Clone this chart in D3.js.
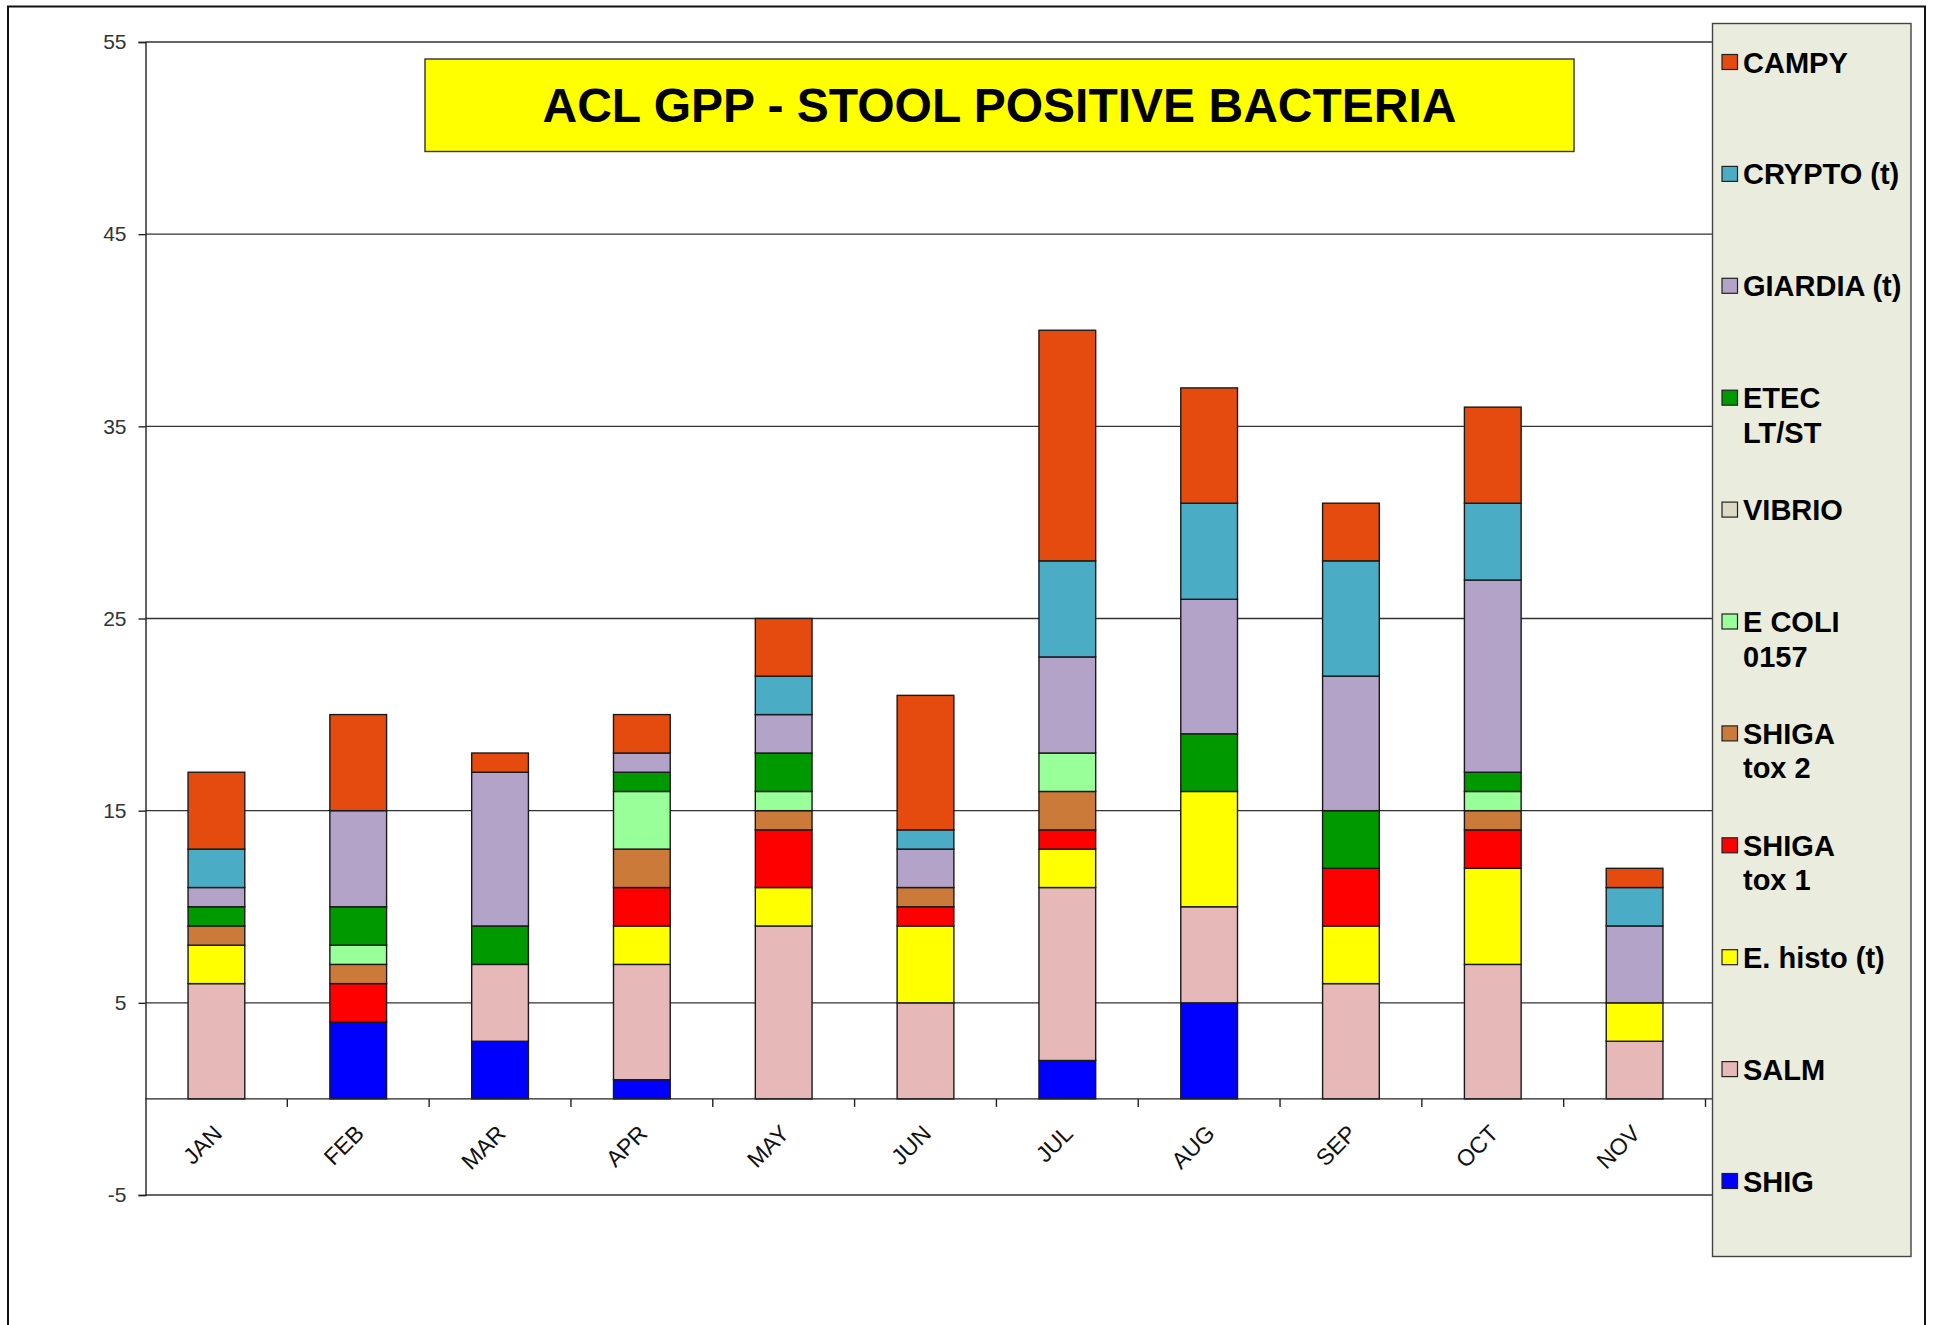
<!DOCTYPE html>
<html>
<head>
<meta charset="utf-8">
<script src="https://cdn.jsdelivr.net/npm/d3@7"></script>
<style>
  html, body { margin: 0; padding: 0; background: #ffffff; }
  svg { display: block; font-family: "Liberation Sans", Arial, sans-serif; }
</style>
</head>
<body>
<svg id="chart" width="1937" height="1325"></svg>
<script>
// ---------------- DATA ----------------
const months = ["JAN","FEB","MAR","APR","MAY","JUN","JUL","AUG","SEP","OCT","NOV"];

// series keys, stacked bottom -> top
const seriesKeys = ["SHIG","SALM","EHISTO","STX1","STX2","ECOLI","VIBRIO","ETEC","GIARDIA","CRYPTO","CAMPY"];

const SHIG    = [0, 4, 3, 1, 0, 0, 2, 5, 0, 0, 0];
const SALM    = [6, 0, 4, 6, 9, 5, 9, 5, 6, 7, 3];
const EHISTO  = [2, 0, 0, 2, 2, 4, 2, 6, 3, 5, 2];
const STX1    = [0, 2, 0, 2, 3, 1, 1, 0, 3, 2, 0];
const STX2    = [1, 1, 0, 2, 1, 1, 2, 0, 0, 1, 0];
const ECOLI   = [0, 1, 0, 3, 1, 0, 2, 0, 0, 1, 0];
const VIBRIO  = [0, 0, 0, 0, 0, 0, 0, 0, 0, 0, 0];
const ETEC    = [1, 2, 2, 1, 2, 0, 0, 3, 3, 1, 0];
const GIARDIA = [1, 5, 8, 1, 2, 2, 5, 7, 7, 10, 4];
const CRYPTO  = [2, 0, 0, 0, 2, 1, 5, 5, 6, 4, 2];
const CAMPY   = [4, 5, 1, 2, 3, 7, 12, 6, 3, 5, 1];

const seriesLabels = {
  CAMPY: ["CAMPY"],
  CRYPTO: ["CRYPTO (t)"],
  GIARDIA: ["GIARDIA (t)"],
  ETEC: ["ETEC", "LT/ST"],
  VIBRIO: ["VIBRIO"],
  ECOLI: ["E COLI", "0157"],
  STX2: ["SHIGA", "tox 2"],
  STX1: ["SHIGA", "tox 1"],
  EHISTO: ["E. histo (t)"],
  SALM: ["SALM"],
  SHIG: ["SHIG"]
};
const legendOrder = ["CAMPY","CRYPTO","GIARDIA","ETEC","VIBRIO","ECOLI","STX2","STX1","EHISTO","SALM","SHIG"];

const yTicks = [-5, 5, 15, 25, 35, 45, 55];
const titleText = "ACL GPP - STOOL POSITIVE BACTERIA";

// ---------------- STYLE ----------------
const colors = {
  SHIG: "#0000FF",
  SALM: "#E6B8B7",
  EHISTO: "#FFFF00",
  STX1: "#FF0000",
  STX2: "#CC7A3A",
  ECOLI: "#99FF99",
  VIBRIO: "#DDD9C4",
  ETEC: "#009900",
  GIARDIA: "#B3A3C8",
  CRYPTO: "#4BACC6",
  CAMPY: "#E54B0E"
};

const seriesValues = { SHIG, SALM, EHISTO, STX1, STX2, ECOLI, VIBRIO, ETEC, GIARDIA, CRYPTO, CAMPY };

const rows = months.map((m, i) => {
  const r = { month: m };
  seriesKeys.forEach(k => { r[k] = seriesValues[k][i]; });
  return r;
});

const svg = d3.select("#chart");

// outer frame
svg.append("rect")
  .attr("x", 8).attr("y", 6.5)
  .attr("width", 1917).attr("height", 1340)
  .attr("fill", "#ffffff").attr("stroke", "#111").attr("stroke-width", 2);

const plot = { left: 145.5, right: 1705.5, top: 42, bottom: 1195 };

const x = d3.scaleBand()
  .domain(months)
  .range([plot.left, plot.right])
  .paddingInner(0.6)
  .paddingOuter(0.3);

const y = d3.scaleLinear()
  .domain([-5, 55])
  .range([plot.bottom, plot.top]);

// gridlines
svg.append("g")
  .selectAll("line")
  .data(yTicks)
  .join("line")
  .attr("x1", plot.left).attr("x2", 1713)
  .attr("y1", d => y(d)).attr("y2", d => y(d))
  .attr("stroke", "#333").attr("stroke-width", 1.4);

// y axis
const yAxis = d3.axisLeft(y).tickValues(yTicks).tickSize(7).tickPadding(12).tickFormat(d => String(d));
const gy = svg.append("g").attr("transform", `translate(${plot.left},0)`).call(yAxis);
gy.select(".domain").attr("stroke", "#222").attr("stroke-width", 1.4);
gy.selectAll(".tick line").attr("stroke", "#222").attr("stroke-width", 1.4);
gy.selectAll(".tick text")
  .attr("font-size", 21)
  .attr("fill", "#333")
  .attr("font-family", "'Liberation Sans', Arial, sans-serif");

// stacked bars
const stack = d3.stack().keys(seriesKeys);
const stacked = stack(rows);

svg.append("g")
  .selectAll("g")
  .data(stacked)
  .join("g")
  .attr("fill", d => colors[d.key])
  .selectAll("rect")
  .data(d => d.filter(s => s[1] - s[0] > 0))
  .join("rect")
  .attr("x", d => x(d.data.month))
  .attr("width", x.bandwidth())
  .attr("y", d => y(d[1]))
  .attr("height", d => y(d[0]) - y(d[1]))
  .attr("stroke", "#1a1a1a")
  .attr("stroke-width", 1.4);

// x axis at zero
const step = x.step();
const gx = svg.append("g");
gx.append("line")
  .attr("x1", plot.left).attr("x2", 1713)
  .attr("y1", y(0)).attr("y2", y(0))
  .attr("stroke", "#222").attr("stroke-width", 1.4);
gx.selectAll("line.tick")
  .data(d3.range(1, months.length + 1))
  .join("line")
  .attr("class", "tick")
  .attr("x1", i => plot.left + i * step).attr("x2", i => plot.left + i * step)
  .attr("y1", y(0)).attr("y2", y(0) + 8)
  .attr("stroke", "#222").attr("stroke-width", 1.4);
gx.selectAll("text")
  .data(months)
  .join("text")
  .attr("transform", m => `translate(${x(m) + x.bandwidth() / 2 + 7},${y(0) + 36}) rotate(-45)`)
  .attr("text-anchor", "end")
  .attr("font-size", 23)
  .attr("fill", "#111")
  .text(m => m);

// title box
svg.append("rect")
  .attr("x", 425).attr("y", 59)
  .attr("width", 1149).attr("height", 92.5)
  .attr("fill", "#FFFF00").attr("stroke", "#333").attr("stroke-width", 1.4);
svg.append("text")
  .attr("x", 999.5).attr("y", 105)
  .attr("text-anchor", "middle")
  .attr("dominant-baseline", "central")
  .attr("font-size", 48)
  .attr("font-weight", "bold")
  .attr("fill", "#000")
  .text(titleText);

// legend
const lg = svg.append("g");
lg.append("rect")
  .attr("x", 1712.5).attr("y", 23.5)
  .attr("width", 1911 - 1712.5).attr("height", 1256.5 - 23.5)
  .attr("fill", "#EAEDDD").attr("stroke", "#444").attr("stroke-width", 1.4);

const legendY = d3.scaleLinear().domain([0, legendOrder.length - 1]).range([62, 1181]);
const items = lg.selectAll("g.item")
  .data(legendOrder)
  .join("g")
  .attr("class", "item")
  .attr("transform", (k, i) => `translate(0,${legendY(i)})`);
items.append("rect")
  .attr("x", 1722).attr("y", -7.5)
  .attr("width", 15.5).attr("height", 15)
  .attr("fill", k => colors[k])
  .attr("stroke", "#222").attr("stroke-width", 1.2);
items.each(function(k) {
  const g = d3.select(this);
  seriesLabels[k].forEach((line, j) => {
    g.append("text")
      .attr("x", 1743)
      .attr("y", 10.5 + j * 34.6)
      .attr("font-size", 29)
      .attr("font-weight", "bold")
      .attr("fill", "#000")
      .text(line);
  });
});
</script>
</body>
</html>
